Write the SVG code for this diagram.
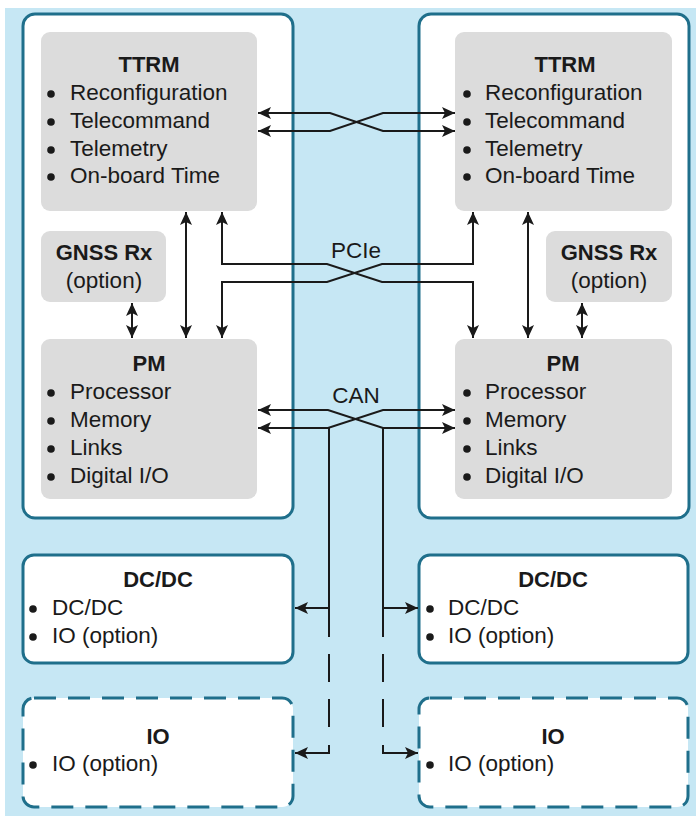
<svg xmlns="http://www.w3.org/2000/svg" width="696" height="816" viewBox="0 0 696 816">
<defs>
<style>
.bg{fill:#c6e7f4}
.outer{fill:#ffffff;stroke:#1f6f8b;stroke-width:3}
.dash{fill:#ffffff;stroke:#1f6f8b;stroke-width:3;stroke-dasharray:22 12}
.grey{fill:#dcdcdc}
.t{font-family:"Liberation Sans",Arial,sans-serif;font-size:22.5px;fill:#1a1a1a}
.b{font-weight:bold;text-anchor:middle;font-size:22px}
.c{text-anchor:middle}
.dot{fill:#1a1a1a}
.ln{fill:none;stroke:#1a1a1a;stroke-width:2}
.ld{fill:none;stroke:#1a1a1a;stroke-width:2;stroke-dasharray:28 17}
</style>
<marker id="ah" markerUnits="userSpaceOnUse" markerWidth="14" markerHeight="12" refX="13" refY="6" orient="auto-start-reverse" viewBox="0 0 14 12">
<path d="M0,0 L13,6 L0,12 L3,6 Z" fill="#1a1a1a"/>
</marker>
</defs>
<rect class="bg" x="5" y="8" width="691" height="808"/>

<g id="left-unit">
<rect class="outer" x="23" y="14" width="270" height="504" rx="12"/>
</g>
<g id="right-unit">
<rect class="outer" x="419" y="14" width="270" height="504" rx="12"/>
</g>

<g id="ttrm-left">
<rect class="grey" x="41" y="32" width="216" height="179" rx="9"/>
<text class="t b" x="149" y="72">TTRM</text>
<circle class="dot" cx="51" cy="94" r="3.8"/><text class="t" x="70" y="100">Reconfiguration</text>
<circle class="dot" cx="51" cy="122" r="3.8"/><text class="t" x="70" y="128">Telecommand</text>
<circle class="dot" cx="51" cy="150" r="3.8"/><text class="t" x="70" y="156">Telemetry</text>
<circle class="dot" cx="51" cy="177" r="3.8"/><text class="t" x="70" y="183">On-board Time</text>
</g>
<g id="ttrm-right">
<rect class="grey" x="455" y="32" width="217" height="179" rx="9"/>
<text class="t b" x="565" y="72">TTRM</text>
<circle class="dot" cx="467" cy="94" r="3.8"/><text class="t" x="485" y="100">Reconfiguration</text>
<circle class="dot" cx="467" cy="122" r="3.8"/><text class="t" x="485" y="128">Telecommand</text>
<circle class="dot" cx="467" cy="150" r="3.8"/><text class="t" x="485" y="156">Telemetry</text>
<circle class="dot" cx="467" cy="177" r="3.8"/><text class="t" x="485" y="183">On-board Time</text>
</g>

<g id="gnss-left">
<rect class="grey" x="41" y="231" width="125" height="71" rx="9"/>
<text class="t b" x="104" y="260">GNSS Rx</text>
<text class="t c" x="104" y="288">(option)</text>
</g>
<g id="gnss-right">
<rect class="grey" x="546" y="231" width="126" height="71" rx="9"/>
<text class="t b" x="609" y="260">GNSS Rx</text>
<text class="t c" x="609" y="288">(option)</text>
</g>

<g id="pm-left">
<rect class="grey" x="41" y="339" width="216" height="160" rx="9"/>
<text class="t b" x="149" y="371">PM</text>
<circle class="dot" cx="51" cy="393" r="3.8"/><text class="t" x="70" y="399">Processor</text>
<circle class="dot" cx="51" cy="421" r="3.8"/><text class="t" x="70" y="427">Memory</text>
<circle class="dot" cx="51" cy="449" r="3.8"/><text class="t" x="70" y="455">Links</text>
<circle class="dot" cx="51" cy="477" r="3.8"/><text class="t" x="70" y="483">Digital I/O</text>
</g>
<g id="pm-right">
<rect class="grey" x="455" y="339" width="217" height="160" rx="9"/>
<text class="t b" x="563" y="371">PM</text>
<circle class="dot" cx="467" cy="393" r="3.8"/><text class="t" x="485" y="399">Processor</text>
<circle class="dot" cx="467" cy="421" r="3.8"/><text class="t" x="485" y="427">Memory</text>
<circle class="dot" cx="467" cy="449" r="3.8"/><text class="t" x="485" y="455">Links</text>
<circle class="dot" cx="467" cy="477" r="3.8"/><text class="t" x="485" y="483">Digital I/O</text>
</g>

<g id="dcdc-left">
<rect class="outer" x="23" y="555" width="270" height="108" rx="11"/>
<text class="t b" x="158" y="587">DC/DC</text>
<circle class="dot" cx="33" cy="609" r="3.8"/><text class="t" x="52" y="615">DC/DC</text>
<circle class="dot" cx="33" cy="637" r="3.8"/><text class="t" x="52" y="643">IO (option)</text>
</g>
<g id="dcdc-right">
<rect class="outer" x="419" y="555" width="269" height="108" rx="11"/>
<text class="t b" x="553" y="587">DC/DC</text>
<circle class="dot" cx="430" cy="609" r="3.8"/><text class="t" x="448" y="615">DC/DC</text>
<circle class="dot" cx="430" cy="637" r="3.8"/><text class="t" x="448" y="643">IO (option)</text>
</g>

<g id="io-left">
<rect class="dash" x="23" y="698" width="270" height="109" rx="11"/>
<text class="t b" x="158" y="744">IO</text>
<circle class="dot" cx="33" cy="765" r="3.8"/><text class="t" x="52" y="771">IO (option)</text>
</g>
<g id="io-right">
<rect class="dash" x="419" y="698" width="269" height="109" rx="11"/>
<text class="t b" x="553" y="744">IO</text>
<circle class="dot" cx="430" cy="765" r="3.8"/><text class="t" x="448" y="771">IO (option)</text>
</g>

<g id="connectors">
<path class="ln" d="M258,113 H330 L383,131 H455" marker-start="url(#ah)" marker-end="url(#ah)"/>
<path class="ln" d="M258,131 H330 L383,113 H455" marker-start="url(#ah)" marker-end="url(#ah)"/>
<path class="ln" d="M186,212 V338" marker-start="url(#ah)" marker-end="url(#ah)"/>
<path class="ln" d="M528,212 V338" marker-start="url(#ah)" marker-end="url(#ah)"/>
<path class="ln" d="M132,303 V338" marker-start="url(#ah)" marker-end="url(#ah)"/>
<path class="ln" d="M582,303 V338" marker-start="url(#ah)" marker-end="url(#ah)"/>
<path class="ln" d="M222,212 V264 H327 L382,282 H473 V338" marker-start="url(#ah)" marker-end="url(#ah)"/>
<path class="ln" d="M222,338 V282 H327 L382,264 H473 V212" marker-start="url(#ah)" marker-end="url(#ah)"/>
<text class="t c" x="356" y="258">PCIe</text>
<path class="ln" d="M258,410 H328 L383,428 H455" marker-start="url(#ah)" marker-end="url(#ah)"/>
<path class="ln" d="M258,428 H328 L383,410 H455" marker-start="url(#ah)" marker-end="url(#ah)"/>
<text class="t c" x="356" y="403">CAN</text>
<path class="ln" d="M329,428 V637"/>
<path class="ln" d="M383,428 V637"/>
<path class="ln" d="M329,608 H295" marker-end="url(#ah)"/>
<path class="ln" d="M383,608 H418" marker-end="url(#ah)"/>
<path class="ld" d="M329,654 V730"/>
<path class="ld" d="M383,654 V730"/>
<path class="ln" d="M329,745 V753 H295" marker-end="url(#ah)"/>
<path class="ln" d="M383,745 V753 H418" marker-end="url(#ah)"/>
</g>
</svg>
